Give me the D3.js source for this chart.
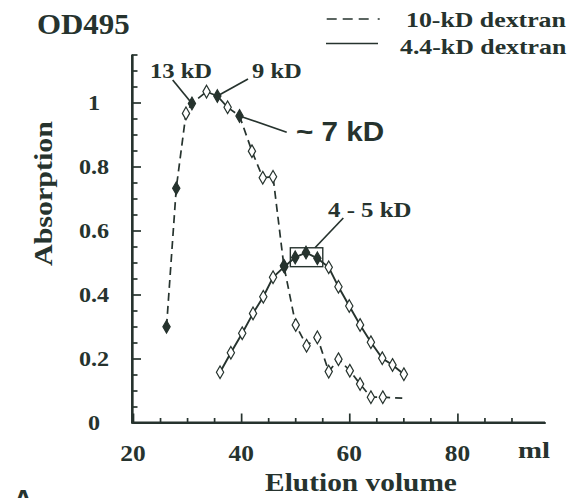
<!DOCTYPE html>
<html><head><meta charset="utf-8">
<script src="https://cdn.jsdelivr.net/npm/d3@7"></script>
<style>
html,body{margin:0;padding:0;background:#fff;overflow:hidden}
</style>
</head><body>
<svg id="chart" width="573" height="498"></svg>
<script>
// ---- data ----
const dex10Volume = [26.2, 28.0, 29.8, 30.9, 33.6, 35.6, 37.5, 39.7, 42.0, 44.0, 45.9, 47.9, 50.1, 52.1, 54.1, 56.2, 58.0, 60.1, 62.0, 64.0, 66.2];
const dex10Abs    = [0.299, 0.732, 0.966, 0.997, 1.034, 1.020, 0.985, 0.958, 0.848, 0.765, 0.768, 0.49, 0.305, 0.240, 0.266, 0.159, 0.198, 0.162, 0.120, 0.079, 0.079];
const dex10Filled = [1, 1, 0, 1, 0, 1, 0, 1, 0, 0, 0, 1, 0, 0, 0, 0, 0, 0, 0, 0, 0];
const dex10TailVolume = [66.2, 69.8];
const dex10TailAbs = [0.079, 0.076];

const dex44Volume = [36.1, 38.1, 40.2, 42.2, 44.1, 45.9, 48.0, 50.0, 52.0, 54.1, 56.2, 58.0, 60.0, 62.0, 64.0, 66.1, 68.0, 70.1];
const dex44Abs    = [0.157, 0.218, 0.279, 0.341, 0.393, 0.454, 0.487, 0.516, 0.531, 0.513, 0.485, 0.424, 0.364, 0.305, 0.251, 0.201, 0.180, 0.151];
const dex44Filled = [0, 0, 0, 0, 0, 0, 1, 1, 1, 1, 0, 0, 0, 0, 0, 0, 0, 0];

const boxVolume = [49.1, 55.1];
const boxAbs = [0.487, 0.546];

const xMajorTicks = [20, 40, 60, 80];
const xMinorTicks = [25, 30, 35, 45, 50, 55, 65, 70, 75, 85, 90];
const xTickLabels = ["20", "40", "60", "80"];
const yMajorTicks = [0, 0.2, 0.4, 0.6, 0.8, 1];
const yMinorTicks = [0.05, 0.1, 0.15, 0.25, 0.3, 0.35, 0.45, 0.5, 0.55, 0.65, 0.7, 0.75, 0.85, 0.9, 0.95, 1.05, 1.1, 1.15];
const yTickLabels = ["0", "0.2", "0.4", "0.6", "0.8", "1"];

const legendLabels = ["10-kD dextran", "4.4-kD dextran"];

// ---- layout ----
const ink = "#26332e";
const serif = "'Liberation Serif','Times New Roman',serif";
const sans = "'Liberation Sans',Arial,sans-serif";
const svg = d3.select("#chart");

const x = d3.scaleLinear().domain([20, 96.2]).range([133, 545]);
const y = d3.scaleLinear().domain([0, 1.15]).range([422.5, 54.5]);

function txt(px, py, str, size, sx, anchor, family, rotate) {
  svg.append("text")
    .attr("transform", `translate(${px},${py})` + (rotate ? ` rotate(${rotate})` : "") + ` scale(${sx},1)`)
    .attr("text-anchor", anchor || "start")
    .attr("font-family", family || serif)
    .attr("font-weight", "bold")
    .attr("font-size", size)
    .attr("fill", ink)
    .text(str);
}
function ln(x1, y1, x2, y2, w) {
  svg.append("line").attr("x1", x1).attr("y1", y1).attr("x2", x2).attr("y2", y2)
    .attr("stroke", ink).attr("stroke-width", w || 1.7);
}

// ---- axes through d3.axis ----
const ax0 = x(20) - 1, ay0 = y(0);
function styleAxis(g) {
  g.selectAll("line").attr("stroke", ink).attr("stroke-width", 1.7);
  g.selectAll("path").attr("stroke", ink).attr("stroke-width", 1.8);
  g.selectAll("text").remove();
}
svg.append("g").attr("transform", `translate(0,${ay0})`)
  .call(d3.axisBottom(x).tickValues(xMinorTicks).tickSizeInner(-4.5).tickSizeOuter(0))
  .call(styleAxis);
svg.append("g").attr("transform", `translate(0,${ay0})`)
  .call(d3.axisBottom(x).tickValues(xMajorTicks).tickSizeInner(-9).tickSizeOuter(0))
  .call(styleAxis);
svg.append("g").attr("transform", `translate(${ax0},0)`)
  .call(d3.axisLeft(y).tickValues(yMinorTicks).tickSizeInner(-5.5).tickSizeOuter(0))
  .call(styleAxis);
svg.append("g").attr("transform", `translate(${ax0},0)`)
  .call(d3.axisLeft(y).tickValues(yMajorTicks).tickSizeInner(-9).tickSizeOuter(0))
  .call(styleAxis);
// full frame line (corner to corner)
ln(ax0, y(1.15), ax0, ay0 + 0.9, 1.9);
ln(ax0 - 0.9, ay0, x.range()[1], ay0, 1.9);

// tick labels
xMajorTicks.forEach((v, i) => txt(x(v), 461, xTickLabels[i], 23.5, 1.08, "middle"));
yMajorTicks.forEach((v, i) => txt(94, y(v) + 7, yTickLabels[i], 21, 1.15, "middle"));
txt(518, 458, "ml", 24, 1.2, "start");
txt(361, 491, "Elution volume", 26, 1.13, "middle");
txt(52, 193.5, "Absorption", 25, 1.2, "middle", serif, -90);
txt(37, 34, "OD495", 30, 1.03, "start");
txt(13, 509, "A", 28, 1, "start", sans);

// series
const lineGen = d3.line().x(d => x(d[0])).y(d => y(d[1]));
const d10 = dex10Volume.map((v, i) => [v, dex10Abs[i]]);
const d10tail = dex10TailVolume.map((v, i) => [v, dex10TailAbs[i]]);
const d44 = dex44Volume.map((v, i) => [v, dex44Abs[i]]);

svg.append("path").attr("d", lineGen(d10.concat(d10tail.slice(1)))).attr("fill", "none")
  .attr("stroke", ink).attr("stroke-width", 1.7).attr("stroke-dasharray", "8,5");
svg.append("path").attr("d", lineGen(d44)).attr("fill", "none")
  .attr("stroke", ink).attr("stroke-width", 1.9);

const diamond = d3.symbol().type(d3.symbolDiamond).size(46);
function markers(data, filled) {
  svg.append("g").selectAll("path").data(data).join("path")
    .attr("d", diamond)
    .attr("transform", d => `translate(${x(d[0])},${y(d[1])})`)
    .attr("fill", (d, i) => filled[i] ? ink : "#fff")
    .attr("stroke", ink).attr("stroke-width", 1.2);
}
markers(d10, dex10Filled);
markers(d44, dex44Filled);

// box
svg.append("rect")
  .attr("x", x(boxVolume[0])).attr("y", y(boxAbs[1]))
  .attr("width", x(boxVolume[1]) - x(boxVolume[0]))
  .attr("height", y(boxAbs[0]) - y(boxAbs[1]))
  .attr("fill", "none").attr("stroke", ink).attr("stroke-width", 1.4);

// annotations
ln(172.7, 80, x(dex10Volume[3]), y(dex10Abs[3]));
txt(150, 78, "13 kD", 21, 1.17, "start");
ln(248, 79, x(dex10Volume[5]), y(dex10Abs[5]));
txt(252, 78, "9 kD", 21, 1.17, "start");
ln(x(dex10Volume[7]), y(dex10Abs[7]), 286.7, 132.3);
txt(296, 141, "~ 7 kD", 28, 1.06, "start", sans);
ln(343.3, 218, 315, y(boxAbs[1]));
txt(328, 216.7, "4 - 5 kD", 20.7, 1.2, "start");

// legend
svg.append("line").attr("x1", 326.7).attr("x2", 380).attr("y1", 19).attr("y2", 19)
  .attr("stroke", ink).attr("stroke-width", 1.6).attr("stroke-dasharray", "10,6,10,6,10,9,2,30");
svg.append("line").attr("x1", 326).attr("x2", 378).attr("y1", 43.5).attr("y2", 43.5)
  .attr("stroke", ink).attr("stroke-width", 1.6);
txt(406, 27, legendLabels[0], 21, 1.23, "start");
txt(400, 54, legendLabels[1], 21, 1.23, "start");
</script>
</body></html>
